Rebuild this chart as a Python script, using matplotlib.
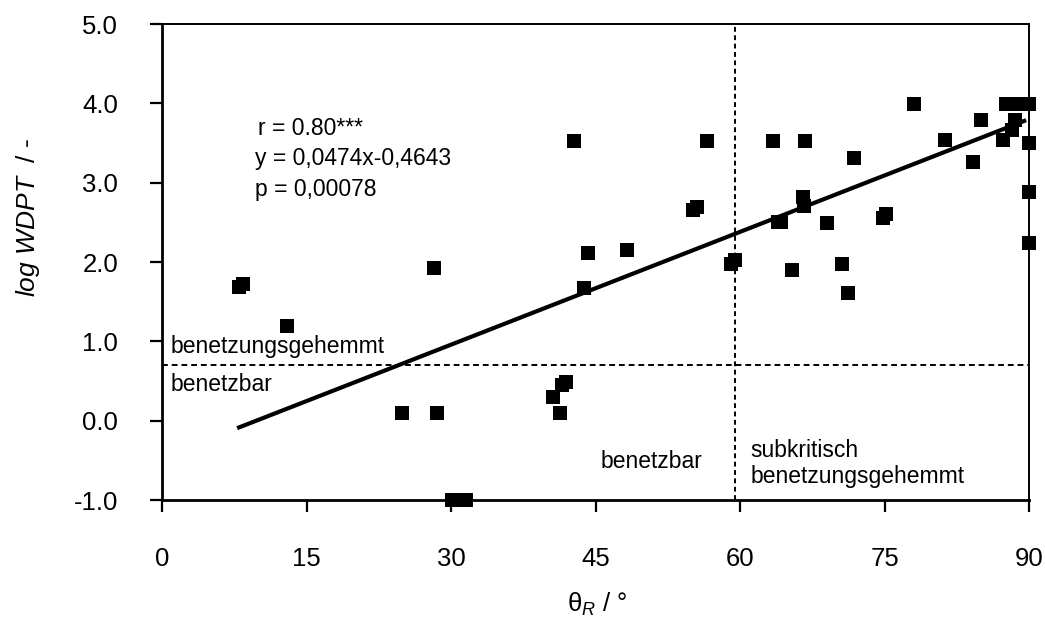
import matplotlib
matplotlib.use("Agg")
import matplotlib.pyplot as plt
import numpy as np

plt.rcParams.update({
    "font.family": ["Liberation Sans", "DejaVu Sans"],
    "axes.unicode_minus": False,
    "mathtext.fontset": "custom",
    "mathtext.rm": "Liberation Sans",
    "mathtext.it": "Liberation Sans:italic",
})

# contact angle theta_R (deg) and log WDPT
theta = [8.0, 8.4, 13.0, 24.9, 28.2, 28.5, 30.1, 31.6, 40.6, 41.3,
         41.5, 41.9, 42.8, 43.8, 44.2, 48.3, 55.1, 55.5, 56.6, 59.1,
         59.5, 63.4, 63.9, 64.3, 65.4, 66.5, 66.6, 66.7, 69.0, 70.6,
         71.2, 71.8, 74.8, 75.2, 78.1, 81.3, 84.2, 85.0, 87.3, 87.6,
         88.8, 90.0, 88.2, 88.5, 90.0, 90.0, 90.0]
log_wdpt = [1.68, 1.72, 1.19, 0.10, 1.93, 0.10, -1.00, -1.00, 0.30, 0.10,
            0.45, 0.49, 3.52, 1.67, 2.11, 2.15, 2.65, 2.69, 3.52, 1.98,
            2.02, 3.52, 2.50, 2.50, 1.90, 2.82, 2.70, 3.52, 2.49, 1.97,
            1.61, 3.31, 2.56, 2.60, 3.99, 3.54, 3.26, 3.79, 3.54, 3.99,
            3.99, 3.99, 3.66, 3.79, 3.50, 2.88, 2.24]

slope, intercept = 0.0474, -0.4643
fit_x = [8.0, 89.5]
wdpt_limit = 0.7      # log(5 s)
theta_limit = 59.5
yticks = [-1, 0, 1, 2, 3, 4, 5]
xticks = [0, 15, 30, 45, 60, 75, 90]

fig = plt.figure(figsize=(10.45, 6.23), dpi=100)
ax = fig.add_axes([162 / 1045, 1 - 500 / 623, 867 / 1045, 476 / 623])

ax.axhline(wdpt_limit, color="black", lw=1.4, ls=(0, (3, 2)), zorder=1)
ax.axvline(theta_limit, color="black", lw=1.4, ls=(0, (2.5, 1.8)), zorder=1)

fx = np.array(fit_x)
ax.plot(fx, slope * fx + intercept, color="black", lw=3.0, zorder=2)

ax.plot(theta, log_wdpt, ls="none", marker="s", ms=9.5, color="black",
        mec="black", mew=0, clip_on=False, zorder=3)

ax.set_xlim(0, 90)
ax.set_ylim(-1.0, 5.0)
ax.set_xticks(xticks)
ax.set_yticks(yticks)
ax.set_yticklabels([f"{v:.1f}" for v in yticks])
ax.tick_params(axis="both", direction="out", length=8.5, width=1.6,
               labelsize=18.5, colors="black")
ax.tick_params(axis="x", pad=25)
ax.tick_params(axis="y", pad=23)

for side in ("left", "bottom"):
    ax.spines[side].set_linewidth(2.0)
for side in ("top", "right"):
    ax.spines[side].set_linewidth(1.4)

fs = 16.5
ax.text(10.0, 3.68, "r = 0.80***", fontsize=fs, va="center", ha="left")
ax.text(9.7, 3.30, "y = 0,0474x-0,4643", fontsize=fs, va="center", ha="left")
ax.text(9.7, 2.91, "p = 0,00078", fontsize=fs, va="center", ha="left")
ax.text(0.9, 0.93, "benetzungsgehemmt", fontsize=fs, va="center", ha="left")
ax.text(0.9, 0.45, "benetzbar", fontsize=fs, va="center", ha="left")
ax.text(45.5, -0.52, "benetzbar", fontsize=fs, va="center", ha="left")
ax.text(61.1, -0.54, "subkritisch\nbenetzungsgehemmt", fontsize=fs,
        va="center", ha="left", linespacing=1.2)

fig.text(28 / 1045, 1 - 217 / 623, r"$\it{log\ WDPT}$  / -", rotation=90,
         fontsize=19, ha="center", va="center")
fig.text(597 / 1045, 1 - 604 / 623, r"θ$_{\it{R}}$ / °", fontsize=18.5,
         ha="center", va="center")

fig.savefig("out.png", dpi=100)
